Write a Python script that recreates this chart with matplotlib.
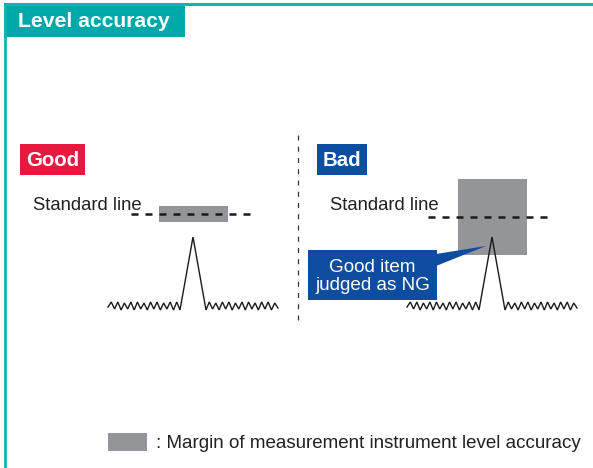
import numpy as np
import matplotlib.pyplot as plt
import matplotlib.patches as mpatches

plt.rcParams['font.family'] = ['Liberation Sans', 'DejaVu Sans']

# --- dados do diagrama ---
titulo = "Level accuracy"
paineis = ["Good", "Bad"]
cores_paineis = ["#E8193F", "#0B4EA2"]
rotulo_linha = "Standard line"
rotulo_balao = ["Good item", "judged as NG"]
legenda = ": Margin of measurement instrument level accuracy"

# sinal: ruído à esquerda, pico, ruído à direita (altura em px acima da base)
ruido_esq = [3, 8, 1, 8, 0, 7, 1, 8, 0, 8, 1, 7, 0, 8, 1, 8, 0, 7, 1, 8, 0, 8, 0]
ruido_dir = [0, 8, 1, 7, 0, 8, 1, 8, 0, 7, 1, 8, 0, 8, 1, 7, 0, 8, 1, 8, 0, 7, 2]
altura_pico = 73

# margem de precisão (meia altura em px) e nível da linha padrão
margem = [8, 38]
nivel_padrao = [214, 217]

TEAL = "#00A9A9"
CINZA = "#939598"

fig = plt.figure(figsize=(5.93, 4.68), dpi=100)
ax = fig.add_axes([0, 0, 1, 1])
ax.set_xlim(0, 593)
ax.set_ylim(468, 0)
ax.axis('off')

# moldura
ax.plot([5, 593], [3.5, 3.5], color="#14B2B2", lw=2.2, solid_capstyle='butt')
ax.plot([5, 5], [3, 468], color="#14B2B2", lw=2.0, solid_capstyle='butt')
ax.add_patch(mpatches.Rectangle((4, 3), 181, 34, color=TEAL, lw=0))
ax.text(18, 27, titulo, color='white', fontsize=15.2, fontweight='bold', va='baseline')

# divisória
ax.plot([298, 298], [135, 320], color='#333333', lw=0.9, linestyle=(0, (4, 5)))

# onda em coordenadas locais
xs_esq = np.linspace(0, 72, len(ruido_esq))
xs_dir = np.linspace(98, 170, len(ruido_dir))
onda_x = np.concatenate([xs_esq, [85], xs_dir])
onda_h = np.concatenate([ruido_esq, [altura_pico], ruido_dir])

base_x = [108, 407]
rotulo_x = [20, 317]
rotulo_w = [65, 50]
linha_x = [(131, 256), (428, 553)]
texto_x = [33, 330]

for i in range(2):
    x0 = base_x[i]
    pico_x = x0 + 85
    # caixa do rótulo
    ax.add_patch(mpatches.Rectangle((rotulo_x[i], 144), rotulo_w[i], 31,
                                    color=cores_paineis[i], lw=0))
    ax.text(rotulo_x[i] + rotulo_w[i] / 2, 166.5, paineis[i], color='white',
            fontsize=14.7, fontweight='bold', ha='center', va='baseline')
    # margem (cinza)
    y = nivel_padrao[i]
    largura = 69
    ax.add_patch(mpatches.Rectangle((pico_x - 34.5, y - margem[i]), largura,
                                    2 * margem[i], color=CINZA, lw=0, zorder=1))
    # linha padrão tracejada
    ax.plot(linha_x[i], [y, y], color='#1a1a1a', lw=1.8,
            linestyle=(0, (2.8, 2.8)), zorder=3)
    ax.text(texto_x[i], 210, rotulo_linha, fontsize=13.3, va='baseline', color='#231f20')
    # onda
    ax.plot(x0 + onda_x, 310 - onda_h, color='#1a1a1a', lw=1.0, zorder=4,
            solid_joinstyle='miter')

# balão "Good item judged as NG"
AZUL = "#0D4C9E"
ax.add_patch(mpatches.Rectangle((308, 250), 129, 50, color=AZUL, lw=0, zorder=5))
ax.add_patch(mpatches.Polygon([(436, 254), (486, 246), (436, 266)], closed=True,
                              color=AZUL, lw=0, zorder=5))
ax.text(372.5, 272, rotulo_balao[0], color='white', fontsize=13.6,
        ha='center', va='baseline', zorder=6)
ax.text(372.5, 290, rotulo_balao[1], color='white', fontsize=13.6,
        ha='center', va='baseline', zorder=6)

# legenda
ax.add_patch(mpatches.Rectangle((108, 433), 39, 18, color=CINZA, lw=0))
ax.text(156, 448.5, legenda, fontsize=13.5, va='baseline', color='#231f20')

fig.savefig("out.png", dpi=100)
